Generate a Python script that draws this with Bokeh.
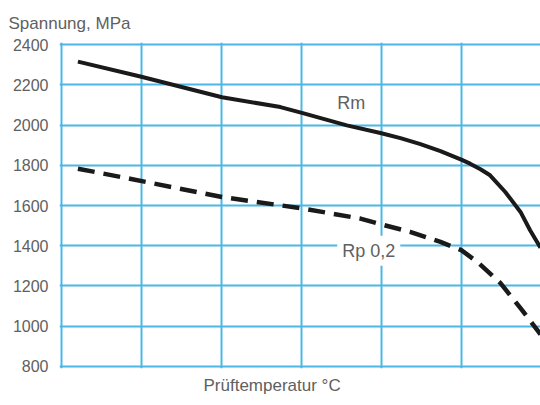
from bokeh.plotting import figure
from bokeh.models import Range1d, FixedTicker, Label, Title
from bokeh.embed import file_html
from bokeh.resources import INLINE

# Data (test temperature in °C, stress in MPa)
rm_temp = [21, 99, 201, 274, 302, 357, 399, 424, 449, 474, 500, 511, 524, 536, 555, 574, 586, 599]
rm_mpa = [2315, 2241, 2138, 2089, 2059, 1998, 1960, 1935, 1905, 1870, 1828, 1808, 1780, 1750, 1667, 1568, 1477, 1390]

rp_temp = [21, 86, 201, 302, 374, 399, 436, 474, 500, 520, 549, 574, 595, 599]
rp_mpa = [1783, 1733, 1642, 1585, 1535, 1507, 1469, 1419, 1378, 1320, 1214, 1090, 981, 960]

x_grid = [0, 100, 200, 300, 400, 500, 600]
y_ticks = [800, 1000, 1200, 1400, 1600, 1800, 2000, 2200, 2400]

FONT = "Liberation Sans"
TXT = "#606060"
GRID = "#4db6e8"

p = figure(width=540, height=405, output_backend="svg", toolbar_location=None,
           x_range=Range1d(-2, 599), y_range=Range1d(790, 2410),
           min_border_left=59, min_border_right=0, min_border_top=42, min_border_bottom=37,
           outline_line_color=None)

p.xaxis.visible = False

p.yaxis.ticker = FixedTicker(ticks=y_ticks)
p.yaxis.axis_line_color = None
p.yaxis.major_tick_line_color = None
p.yaxis.minor_tick_line_color = None
p.yaxis.major_tick_in = 0
p.yaxis.major_tick_out = 0
p.yaxis.major_label_standoff = 11
p.yaxis.major_label_text_font = FONT
p.yaxis.major_label_text_font_size = "16px"
p.yaxis.major_label_text_color = TXT

p.xgrid.ticker = FixedTicker(ticks=x_grid)
p.ygrid.ticker = FixedTicker(ticks=y_ticks)
for g in (p.xgrid, p.ygrid):
    g.grid_line_color = GRID
    g.grid_line_width = 2
    g.grid_line_alpha = 1.0

p.line(rm_temp, rm_mpa, line_color="#1a1a1a", line_width=4, line_join="round")
p.line(rp_temp, rp_mpa, line_color="#1a1a1a", line_width=4.5, line_dash="17 9", line_join="round")

p.add_layout(Label(x=345, y=2110, text="Rm", text_font=FONT, text_font_size="18px",
                   text_color=TXT, text_baseline="middle"))
p.add_layout(Label(x=345, y=1375, text="Rp 0,2", text_font=FONT, text_font_size="18px",
                   text_color=TXT, text_baseline="middle",
                   background_fill_color="white", background_fill_alpha=1.0, padding=5))

p.title.text = "Spannung, MPa"
p.title.align = "left"
p.title.offset = -51
p.title.standoff = 20
p.title.text_font = FONT
p.title.text_font_size = "17px"
p.title.text_font_style = "normal"
p.title.text_color = TXT

p.add_layout(Title(text="Prüftemperatur °C", align="left", offset=144, standoff=14,
                   vertical_align="top", text_font=FONT, text_font_size="17px",
                   text_font_style="normal", text_color=TXT), "below")

open("out.html", "w").write(file_html(p, INLINE))
